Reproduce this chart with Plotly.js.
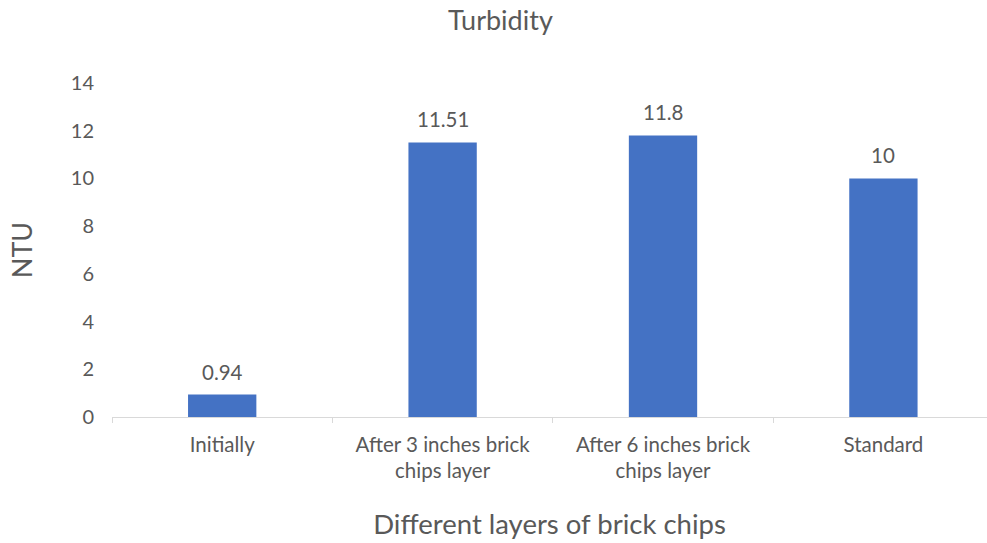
<!DOCTYPE html>
<html>
<head>
<meta charset="utf-8">
<script src="https://cdn.plot.ly/plotly-3.0.1.min.js"></script>
<style>html,body{margin:0;padding:0;background:#fff;}#chart{width:987px;height:543px;}</style>
</head>
<body>
<div id="chart"></div>
<script>
var categories = ["Initially", "After 3 inches brick<br>chips layer", "After 6 inches brick<br>chips layer", "Standard"];
var turbidity = [0.94, 11.51, 11.8, 10];
var valueLabels = ["0.94", "11.51", "11.8", "10"];
var yTicks = [0, 2, 4, 6, 8, 10, 12, 14];

var FONT = "Lato, 'Open Sans', sans-serif";
var GREY = "#595959";

var trace = {
  type: "bar",
  x: categories,
  y: turbidity,
  width: 0.31,
  marker: {color: "#4472C4"},
  hoverinfo: "x+y"
};

var annotations = categories.map(function (c, i) {
  return {
    x: c, y: turbidity[i], xref: "x", yref: "y",
    text: valueLabels[i], showarrow: false,
    yanchor: "bottom", yshift: 9,
    font: {family: FONT, size: 20.5, color: GREY}
  };
});

var layout = {
  width: 987, height: 543,
  margin: {l: 112, r: 0, t: 83, b: 126},
  paper_bgcolor: "#fff", plot_bgcolor: "#fff",
  showlegend: false,
  title: {text: "Turbidity", x: 0.507, xanchor: "center", y: 0.962, yanchor: "middle",
          font: {family: FONT, size: 27, color: GREY}},
  xaxis: {
    type: "category",
    range: [-0.5, 3.47],
    showgrid: false, zeroline: false,
    showline: true, linecolor: "#D9D9D9", linewidth: 1,
    ticks: "outside", tickson: "boundaries", ticklen: 5, tickcolor: "#D9D9D9",
    ticklabelstandoff: 9,
    tickfont: {family: FONT, size: 20.5, color: GREY},
    title: {text: "Different layers of brick chips", standoff: 33,
            font: {family: FONT, size: 27.5, color: GREY}},
    fixedrange: true
  },
  yaxis: {
    range: [0, 14],
    tickvals: yTicks,
    showgrid: false, zeroline: false, showline: false,
    ticks: "", ticklabelstandoff: 17,
    tickfont: {family: FONT, size: 20, color: GREY},
    title: {text: "NTU", standoff: 30, font: {family: FONT, size: 27, color: GREY}},
    fixedrange: true
  },
  annotations: annotations
};

Plotly.newPlot("chart", [trace], layout, {displayModeBar: false, staticPlot: true});
</script>
</body>
</html>
